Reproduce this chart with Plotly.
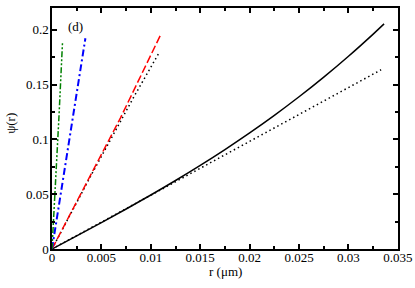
import plotly.graph_objects as go

# solid black curve
r_solid = [0.0, 0.0025, 0.005, 0.0075, 0.01, 0.0125, 0.015, 0.0175, 0.02, 0.0225, 0.025, 0.0275, 0.03, 0.0325, 0.0336]
psi_solid = [0.0, 0.01194, 0.02408, 0.03649, 0.04928, 0.06254, 0.07635, 0.09081, 0.1060, 0.12202, 0.13896, 0.15691, 0.17595, 0.19619, 0.2055]
# dotted black approximations
r_dot1 = [0.0, 0.01, 0.02, 0.0241, 0.0333]
psi_dot1 = [0.0, 0.0492, 0.0985, 0.1180, 0.1636]
r_dot2 = [0.0, 0.00406, 0.00829, 0.01089]
psi_dot2 = [0.0, 0.0690, 0.1390, 0.1800]
# red dashed
r_red = [0.0, 0.00406, 0.00693, 0.01099]
psi_red = [0.0, 0.0697, 0.1197, 0.1955]
# blue dash-dot
r_blue = [0.0, 0.00135, 0.00338]
psi_blue = [0.0, 0.0758, 0.1924]
# green dash-dot-dot
r_green = [0.0, 0.00030, 0.00070, 0.00106]
psi_green = [0.0, 0.0480, 0.1200, 0.1880]

x_ticks = [0, 0.005, 0.01, 0.015, 0.02, 0.025, 0.03, 0.035]
x_labels = ["0", "0.005", "0.01", "0.015", "0.02", "0.025", "0.03", "0.035"]
y_ticks = [0, 0.05, 0.1, 0.15, 0.2]
y_labels = ["0", "0.05", "0.1", "0.15", "0.2"]

SERIF = "Liberation Serif"
FS = 13

fig = go.Figure()
fig.add_trace(go.Scatter(x=r_dot1, y=psi_dot1, mode="lines",
                         line=dict(color="black", width=1.5, dash="1.5px,3px")))
fig.add_trace(go.Scatter(x=r_dot2, y=psi_dot2, mode="lines",
                         line=dict(color="black", width=1.5, dash="1.5px,3px")))
fig.add_trace(go.Scatter(x=r_solid, y=psi_solid, mode="lines",
                         line=dict(color="black", width=1.5, shape="spline")))
fig.add_trace(go.Scatter(x=r_red, y=psi_red, mode="lines",
                         line=dict(color="red", width=1.5, dash="8px,3px")))
fig.add_trace(go.Scatter(x=r_blue, y=psi_blue, mode="lines",
                         line=dict(color="blue", width=2, dash="7px,3px,2px,3px")))
fig.add_trace(go.Scatter(x=r_green, y=psi_green, mode="lines",
                         line=dict(color="green", width=1.5, dash="6px,2px,2px,2px,2px,2px")))

axis_common = dict(showgrid=False, zeroline=False, showline=True, linecolor="black",
                   linewidth=1.5, mirror="ticks", ticks="inside", ticklen=5,
                   tickwidth=1.5, tickcolor="black", automargin=False,
                   ticklabeloverflow="allow",
                   tickfont=dict(family=SERIF, size=FS, color="black"))

fig.update_layout(
    width=415, height=288,
    margin=dict(l=52, r=17, t=8, b=39),
    plot_bgcolor="white", paper_bgcolor="white",
    showlegend=False,
    xaxis=dict(range=[0, 0.03501], tickvals=x_ticks, ticktext=x_labels,
               ticklabelstandoff=-4,
               minor=dict(ticks="inside", ticklen=3, tickwidth=1.5, tickcolor="black", dtick=0.0025),
               **axis_common),
    yaxis=dict(range=[0, 0.22], tickvals=y_ticks, ticktext=y_labels,
               ticklabelstandoff=-1,
               minor=dict(ticks="inside", ticklen=3, tickwidth=1.5, tickcolor="black", dtick=0.025),
               **axis_common),
    annotations=[
        dict(text="(d)", x=0.04, y=0.925, xref="paper", yref="paper",
             xanchor="left", yanchor="middle", showarrow=False,
             font=dict(family=SERIF, size=FS, color="black")),
        dict(text="r (μm)", x=0.5, y=-0.093, xref="paper", yref="paper",
             xanchor="center", yanchor="middle", showarrow=False,
             font=dict(family=SERIF, size=FS, color="black")),
        dict(text="ψ(r)", x=-0.118, y=0.52, xref="paper", yref="paper",
             xanchor="center", yanchor="middle", showarrow=False, textangle=-90,
             font=dict(family=SERIF, size=FS, color="black")),
    ],
)

fig.write_html("out.html", config={"displayModeBar": False},
               post_script="document.body.style.margin='0';document.body.style.overflow='hidden';")
